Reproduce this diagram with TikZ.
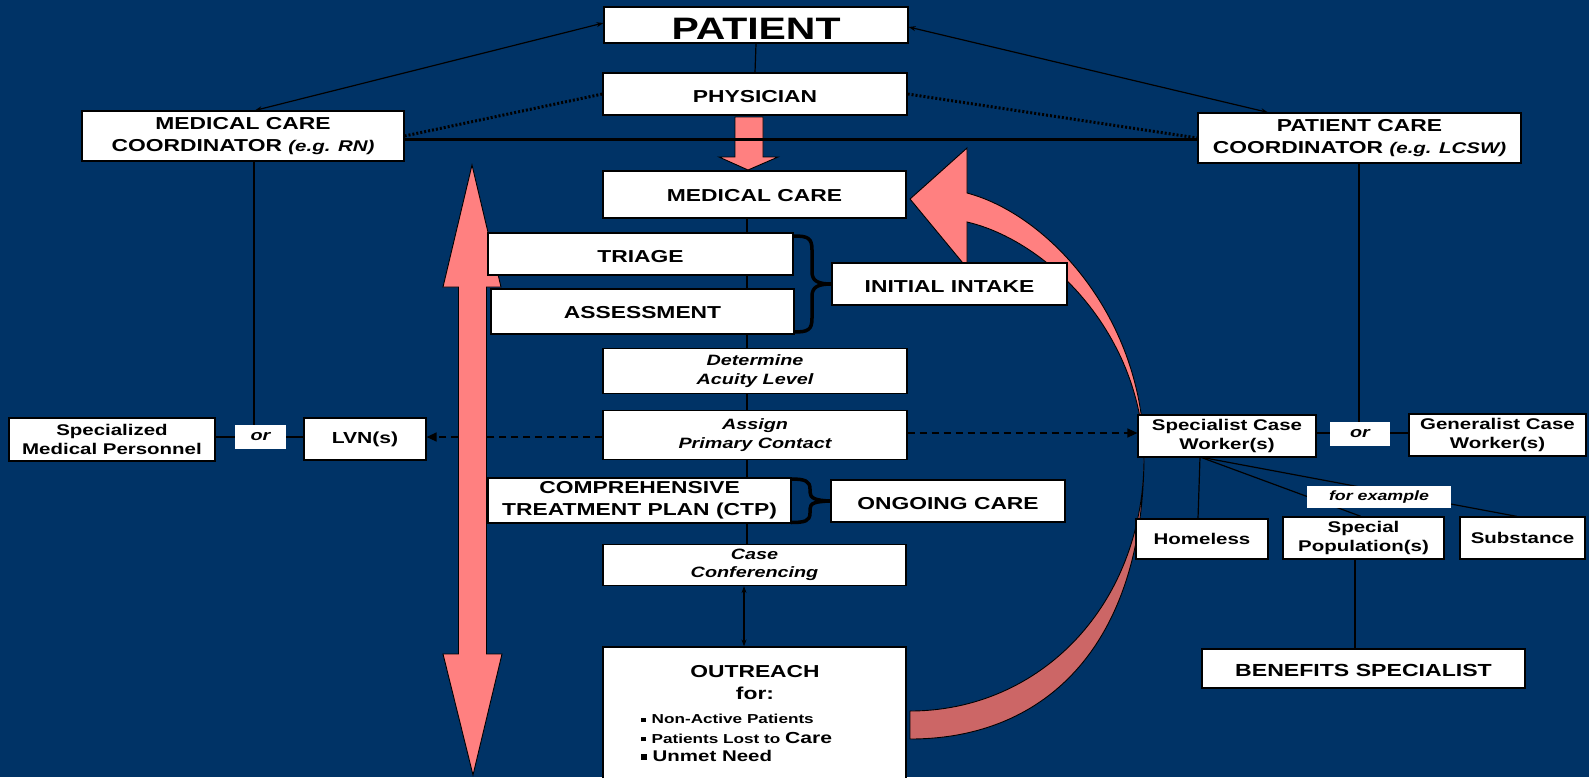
\documentclass[tikz,border=0pt]{standalone}
\usepackage{fontspec}
\setmainfont{Liberation Sans}[FakeStretch=1.32]
\usetikzlibrary{arrows.meta}
\definecolor{bgblue}{HTML}{003366}
\definecolor{pinkA}{HTML}{FF8080}
\definecolor{pinkB}{HTML}{CC6666}
\pgfdeclarelayer{back}
\pgfdeclarelayer{mid}
\pgfsetlayers{back,mid,main}
\newcommand\fbig{\fontsize{17.3}{22}\selectfont\bfseries}
\newcommand\fmed{\fontsize{15.5}{18.5}\selectfont\bfseries}
\newcommand\fital{\fontsize{15}{18.3}\selectfont\bfseries\itshape}
\newcommand\fsm{\fontsize{13}{15}\selectfont\bfseries}
\newcommand\bul{\raisebox{0.12em}{\rule{4.5pt}{4.5pt}}\hspace{6pt}}
\begin{document}
\begin{tikzpicture}[x=1pt,y=-1pt,
  box/.style={draw=black, line width=1.2pt, fill=white, inner sep=0pt, align=center, text=black},
  plainbox/.style={fill=white, inner sep=0pt, align=center, text=black},
  sz/.style 2 args={minimum width=#1, minimum height=#2},
  caps/.style={text height=16.4pt, text depth=0pt},
  conn/.style={draw=black, line width=1.2pt},
  thickconn/.style={draw=black, line width=3pt},
  dotconn/.style={draw=black, line width=3pt, dash pattern=on 2pt off 2pt},
  dashconn/.style={draw=black, line width=1.4pt, dash pattern=on 7pt off 5pt, -{Triangle[length=10pt,width=9pt]}},
  twoway/.style={draw=black, line width=1.2pt, {Stealth[length=7pt,width=5pt]}-{Stealth[length=7pt,width=5pt]}},
  bracestyle/.style={draw=black, line width=3.5pt, line join=round, line cap=round},
  pinkarrow/.style={fill=pinkA, draw=black, line width=0.9pt, line join=miter}
]
\useasboundingbox (0,0) rectangle (1589,777);
\begin{pgfonlayer}{back}
\fill[bgblue] (0,0) rectangle (1589,777);
\end{pgfonlayer}

% ---------- nodes ----------
\node[box, sz={304}{36}, text height=29pt, text depth=0pt, font=\fontsize{31}{36}\selectfont\bfseries] (patient) at (756,25) {PATIENT};
\node[box, sz={304}{42}, caps, font=\fbig] (physician) at (755,94) {PHYSICIAN};
\node[box, sz={322}{50}, font=\fbig] (mcc) at (243,136) {MEDICAL CARE\\COORDINATOR {\fontsize{15.5}{18}\selectfont\itshape (e.g. RN)}};
\node[box, sz={323}{50}, font=\fbig] (pcc) at (1359.5,138) {PATIENT CARE\\COORDINATOR {\fontsize{15.5}{18}\selectfont\itshape (e.g. LCSW)}};
\node[box, sz={303}{47}, text height=14.4pt, text depth=0pt, font=\fbig] (medcare) at (754.5,194.5) {MEDICAL CARE};
\node[box, sz={305}{42}, caps, font=\fbig] (triage) at (640.5,254) {TRIAGE};
\node[box, sz={303}{45}, text height=13.4pt, text depth=0pt, font=\fbig] (assess) at (642.5,311.5) {ASSESSMENT};
\node[box, sz={235}{42}, text height=17.4pt, text depth=0pt, font=\fbig] (intake) at (949.5,284) {INITIAL INTAKE};
\node[box, sz={304}{45}, font=\fital] (acuity) at (755,371) {Determine\\Acuity Level};
\node[box, sz={304}{49}, font=\fital] (assign) at (755,435) {Assign\\Primary Contact};
\node[box, sz={303}{45}, font=\fbig] (ctp) at (639.5,500.5) {COMPREHENSIVE\\TREATMENT PLAN (CTP)};
\node[box, sz={234}{42}, caps, font=\fbig] (ongoing) at (948,501) {ONGOING CARE};
\node[box, sz={303}{41}, font=\fital] (casec) at (754.5,565) {Case\\Conferencing};
\node[box, sz={303}{150}] (outreach) at (754.5,722) {};
\node[inner sep=0pt, font=\fbig] (outT) at (755,672) {OUTREACH};
\node[inner sep=0pt, font=\fbig] (outF) at (755,693.5) {for:};
\node[inner sep=0pt, anchor=west, font=\fsm] (out1) at (641,719) {\bul Non-Active Patients};
\node[inner sep=0pt, anchor=west, font=\fsm] (out2) at (641,737.5) {\bul Patients Lost to {\fontsize{16}{18}\selectfont Care}};
\node[inner sep=0pt, anchor=west, font=\fontsize{15.5}{18}\selectfont\bfseries] (out3) at (641,756) {\raisebox{0.12em}{\rule{5.5pt}{5.5pt}}\hspace{6pt}Unmet Need};

\node[box, sz={206}{43}, font=\fmed] (specmed) at (112,439.5) {Specialized\\Medical Personnel};
\node[plainbox, sz={51}{24}, font=\fital] (orL) at (260.5,437) {or};
\node[box, sz={122}{42}, font=\fontsize{16}{18}\selectfont\bfseries] (lvn) at (365,439) {LVN(s)};

\node[box, sz={178}{42}, font=\fmed] (specialist) at (1227,436) {Specialist Case\\Worker(s)};
\node[plainbox, sz={60}{24}, font=\fital] (orR) at (1360,434) {or};
\node[box, sz={177}{42}, font=\fmed] (generalist) at (1497.5,435) {Generalist Case\\Worker(s)};
\node[box, sz={132}{40}, font=\fmed] (homeless) at (1202,539) {Homeless};
\node[box, sz={161}{42}, font=\fmed] (specpop) at (1363.5,538) {Special\\Population(s)};
\node[box, sz={125}{42}, font=\fmed] (substance) at (1522.5,538) {Substance};
\node[box, sz={323}{39}, text height=15.7pt, text depth=0pt, font=\fontsize{17.5}{20}\selectfont\bfseries] (benefits) at (1363.5,668.5) {BENEFITS SPECIALIST};

\coordinate (cline) at (747,0);
\coordinate (cline2) at (744,0);
\coordinate (mccL) at (254,437);
\coordinate (pccL) at (1359,433);
\coordinate (spk) at (1200,457);
\coordinate (bx) at (1355,0);

% ---------- connectors and arrows ----------
\begin{pgfonlayer}{mid}
% pink down arrow physician -> medical care
\path[pinkarrow] (735,117) -- (763,117) -- (763,157) -- (778,157) -- (748,170) -- (719,157) -- (735,157) -- cycle;
% lines
\draw[conn] (patient.north |- patient.south) -- (physician.north);
\draw[twoway] ([yshift=2pt]patient.west) -- ([xshift=12pt]mcc.north);
\draw[twoway] ([yshift=-2pt]patient.east) -- ([xshift=-91.5pt]pcc.north);
\draw[dotconn] (mcc.east) -- (physician.west);
\draw[dotconn] (physician.east) -- (pcc.west);
\draw[thickconn] ([yshift=-3pt]mcc.east) -- ([yshift=-1pt]pcc.west);
\draw[draw=black, line width=2pt] (medcare.south -| cline) -- (casec.north -| cline);
\draw[twoway] (casec.south -| cline2) -- (outreach.north -| cline2);
\draw[conn] (mcc.south -| mccL) -- (mccL);
\draw[conn] (specmed.east |- mccL) -- (lvn.west |- mccL);
\draw[conn] (pcc.south -| pccL) -- (pccL);
\draw[conn] (specialist.east |- pccL) -- (generalist.west |- pccL);
\draw[conn] (spk -| homeless.north) ++(-2pt,0) -- ([xshift=-4pt]homeless.north);
\draw[conn] (spk) -- ([xshift=-2.5pt]specpop.north);
\draw[conn] (spk) -- ([xshift=-5.5pt]substance.north);
\draw[conn] (specpop.south -| bx) -- (benefits.north -| bx);
% dashed arrows
\draw[dashconn] (assign.west |- 0,437) -- (lvn.east |- 0,437);
\draw[dashconn] (assign.east |- 0,433) -- (specialist.west |- 0,433);
% braces
\draw[bracestyle] (triage.north east |- 0,236) .. controls (808,236) and (812,238) .. (812,250) -- (812,272) .. controls (812,281) and (818,284) .. (intake.west) .. controls (818,284) and (812,287) .. (812,296) -- (812,318) .. controls (812,330) and (808,332) .. (794,332);
\draw[bracestyle] (791,479) .. controls (805,479) and (810,481) .. (810,489) -- (810,492) .. controls (810,498) and (815,500.5) .. (ongoing.west) .. controls (815,501.5) and (810,503) .. (810,509) -- (810,513) .. controls (810,521) and (805,522.5) .. (791,522.5);
% pink vertical double arrow
\path[pinkarrow] (472,165) -- (501,287) -- (486.5,287) -- (486.5,654) -- (502,654) -- (473,775) -- (443,654) -- (458.5,654) -- (458.5,287) -- (443,287) -- cycle;
% curved arrow: lower (dark) part
\path[fill=pinkB, draw=black, line width=0.9pt, line join=round]
  (1144,455) .. controls (1144,640) and (1050,739) .. (910,739)
  -- (910,711) .. controls (1040,711) and (1145,605) .. (1144,455) -- cycle;
% curved arrow: upper (light) part with head
\path[fill=pinkA, draw=black, line width=0.9pt, line join=miter]
  (910,199) -- (967,148) -- (967,193)
  .. controls (1050,215) and (1144,320) .. (1144,455)
  .. controls (1140,330) and (1045,240) .. (967,222)
  -- (967,268) -- cycle;
\end{pgfonlayer}

\node[plainbox, sz={144}{22}, font=\fontsize{13.5}{15}\selectfont\bfseries\itshape] (forex) at (1379,497) {for example};
\end{tikzpicture}
\end{document}
